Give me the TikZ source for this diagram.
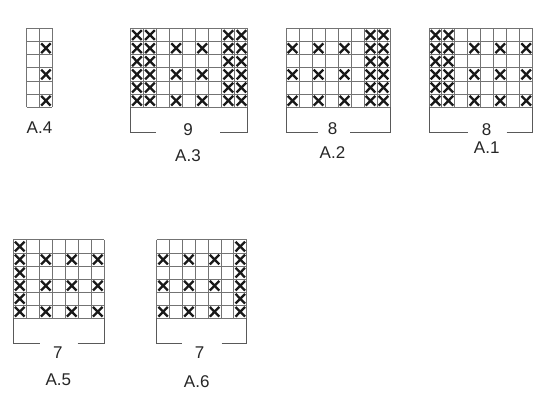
\documentclass[tikz,border=0pt]{standalone}
\usepackage{fontspec}
\setmainfont{Liberation Sans}
\newcommand\kgrid[5]{% x0, y0, cols, w, h
  \foreach \i in {0,...,#3} \draw[gridline] ({#1+\i*#4},#2) -- ({#1+\i*#4},{#2+6*#5});
  \foreach \j in {0,...,6} \draw[gridline] (#1,{#2+\j*#5}) -- ({#1+#3*#4},{#2+\j*#5});
}
\newcommand\kx[6]{% x0,y0,w,h,col,row
  \draw[xmark] ({#1+(#5-1)*#3+1.7},{#2+(#6-1)*#4+1.7}) -- ({#1+#5*#3-1.7},{#2+#6*#4-1.7})
      ({#1+#5*#3-1.7},{#2+(#6-1)*#4+1.7}) -- ({#1+(#5-1)*#3+1.7},{#2+#6*#4-1.7});
}
\newcommand\kfull[5]{\foreach \r in {1,...,6} {\kx{#1}{#2}{#3}{#4}{#5}{\r}}}
\newcommand\kalt[5]{\foreach \r in {2,4,6} {\kx{#1}{#2}{#3}{#4}{#5}{\r}}}
\begin{document}
\begin{tikzpicture}[x=1pt,y=-1pt,
  gridline/.style={draw=black!55, line width=1pt},
  xmark/.style={draw=black!90, line width=2.3pt},
  bracket/.style={draw=black!65, line width=1pt},
  lbl/.style={inner sep=0pt, text=black!85, font=\fontsize{17}{20}\selectfont}]
\useasboundingbox[fill=white] (0,0) rectangle (550,403);

% ---------- A.4 ----------
\kgrid{26.7}{28.5}{2}{12.8}{13.13}
\kalt{26.7}{28.5}{12.8}{13.13}{2}
\node[lbl] (a4) at (39.5,128) {A.4};

% ---------- A.3 ----------
\kgrid{130.4}{28.5}{9}{13.06}{13.13}
\foreach \c in {1,2,8,9} {\kfull{130.4}{28.5}{13.06}{13.13}{\c}}
\foreach \c in {4,6} {\kalt{130.4}{28.5}{13.06}{13.13}{\c}}
\draw[bracket] (130.4,107.3) -- (130.4,132.3) -- (156,132.3);
\draw[bracket] (220,132.3) -- (247.9,132.3) -- (247.9,107.3);
\node[lbl] (n3) at (188,129.5) {9};
\node[lbl] (a3) at (188,156) {A.3};

% ---------- A.2 ----------
\kgrid{286}{28.5}{8}{13}{13.13}
\foreach \c in {7,8} {\kfull{286}{28.5}{13}{13.13}{\c}}
\foreach \c in {1,3,5} {\kalt{286}{28.5}{13}{13.13}{\c}}
\draw[bracket] (286,107.3) -- (286,132.3) -- (317.7,132.3);
\draw[bracket] (350,132.3) -- (390,132.3) -- (390,107.3);
\node[lbl] (n2) at (332.5,129) {8};
\node[lbl] (a2) at (332.5,153) {A.2};

% ---------- A.1 ----------
\kgrid{429}{28.5}{8}{12.96}{13.13}
\foreach \c in {1,2} {\kfull{429}{28.5}{12.96}{13.13}{\c}}
\foreach \c in {4,6,8} {\kalt{429}{28.5}{12.96}{13.13}{\c}}
\draw[bracket] (429,107.3) -- (429,132.3) -- (468.3,132.3);
\draw[bracket] (506.7,132.3) -- (532.7,132.3) -- (532.7,107.3);
\node[lbl] (n1) at (486.5,130) {8};
\node[lbl] (a1) at (486.7,148) {A.1};

% ---------- A.5 ----------
\kgrid{13.3}{240}{7}{13}{13.05}
\kfull{13.3}{240}{13}{13.05}{1}
\foreach \c in {3,5,7} {\kalt{13.3}{240}{13}{13.05}{\c}}
\draw[bracket] (13.3,318.3) -- (13.3,343.3) -- (40,343.3);
\draw[bracket] (77.7,343.3) -- (104.3,343.3) -- (104.3,318.3);
\node[lbl] (n5) at (57.8,352.5) {7};
\node[lbl] (a5) at (58.3,380) {A.5};

% ---------- A.6 ----------
\kgrid{156.7}{240}{7}{12.86}{13.05}
\kfull{156.7}{240}{12.86}{13.05}{7}
\foreach \c in {1,3,5} {\kalt{156.7}{240}{12.86}{13.05}{\c}}
\draw[bracket] (156.7,318.3) -- (156.7,343.3) -- (182.3,343.3);
\draw[bracket] (221.7,343.3) -- (246.7,343.3) -- (246.7,318.3);
\node[lbl] (n6) at (199.5,352.5) {7};
\node[lbl] (a6) at (196.7,381.7) {A.6};
\end{tikzpicture}
\end{document}
